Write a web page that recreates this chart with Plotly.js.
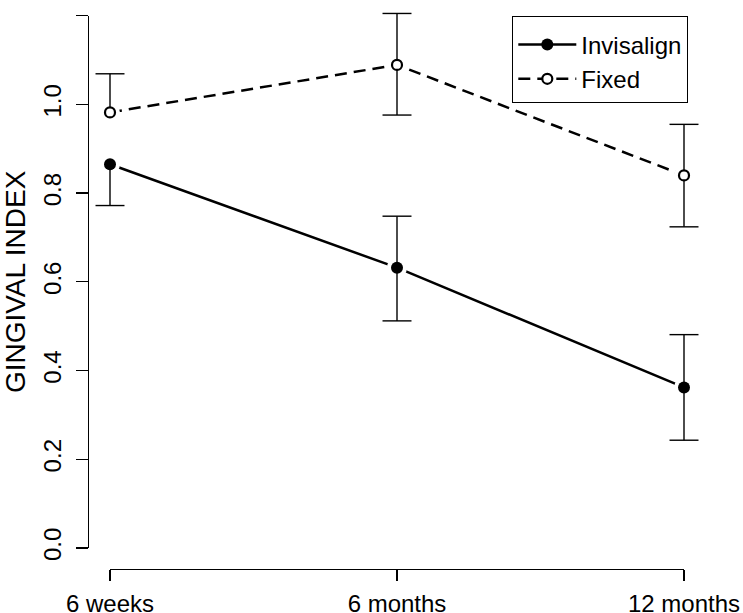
<!DOCTYPE html>
<html>
<head>
<meta charset="utf-8">
<script src="https://cdn.plot.ly/plotly-3.0.1.min.js"></script>
<style>html,body{margin:0;padding:0;background:#fff;}#chart{width:743px;height:613px;}</style>
</head>
<body>
<div id="chart"></div>
<script>
const timepoints = ["6 weeks", "6 months", "12 months"];
const tickPositions = [0, 1, 2];
const invisalignMean = [0.865, 0.632, 0.362];
const invisalignErrUp = [0, 0.116, 0.119];
const invisalignErrDown = [0.093, 0.120, 0.119];
const fixedMean = [0.982, 1.089, 0.840];
const fixedErrUp = [0.087, 0.116, 0.115];
const fixedErrDown = [0, 0.113, 0.116];
const yTickVals = [0, 0.2, 0.4, 0.6, 0.8, 1.0, 1.2];
const yTickText = ["0.0", "0.2", "0.4", "0.6", "0.8", "1.0", "1.2"];

const FONT = "Liberation Sans, Arial, sans-serif";

function capTrace(mean, up, down) {
  const xs = [], ys = [];
  for (let i = 0; i < mean.length; i++) {
    if (up[i] > 0) { xs.push(timepoints[i]); ys.push(mean[i] + up[i]); }
    if (down[i] > 0) { xs.push(timepoints[i]); ys.push(mean[i] - down[i]); }
  }
  return {x: xs, y: ys, mode: "markers", showlegend: false, hoverinfo: "skip", cliponaxis: false,
          marker: {symbol: "line-ew", size: 20.7, color: "#000", line: {color: "#000", width: 1.4}}};
}
function stemTrace(mean, up, down) {
  return {x: timepoints, y: mean, mode: "markers", showlegend: false, hoverinfo: "skip", cliponaxis: false,
          marker: {size: 1, opacity: 0},
          error_y: {type: "data", symmetric: false, array: up, arrayminus: down,
                    visible: true, color: "#000", thickness: 1.4, width: 0}};
}
function haloTrace(mean) {
  return {x: timepoints, y: mean, mode: "markers", showlegend: false, hoverinfo: "skip", cliponaxis: false,
          marker: {symbol: "circle", size: 20, color: "#fff"}};
}
const invMarker = {symbol: "circle", size: 12, color: "#000"};
const fixMarker = {symbol: "circle", size: 10, color: "#fff", line: {color: "#000", width: 2.2}};

const traces = [
  {x: timepoints, y: invisalignMean, name: "Invisalign", mode: "lines+markers", cliponaxis: false,
   line: {color: "#000", width: 2.5, dash: "solid"}, marker: invMarker},
  {x: timepoints, y: fixedMean, name: "Fixed", mode: "lines+markers", cliponaxis: false,
   line: {color: "#000", width: 2.5, dash: "12px,7px"}, marker: fixMarker},
  haloTrace(invisalignMean),
  haloTrace(fixedMean),
  stemTrace(invisalignMean, invisalignErrUp, invisalignErrDown),
  stemTrace(fixedMean, fixedErrUp, fixedErrDown),
  capTrace(invisalignMean, invisalignErrUp, invisalignErrDown),
  capTrace(fixedMean, fixedErrUp, fixedErrDown),
  {x: timepoints, y: invisalignMean, mode: "markers", showlegend: false, cliponaxis: false, marker: invMarker},
  {x: timepoints, y: fixedMean, mode: "markers", showlegend: false, cliponaxis: false, marker: fixMarker},
  // empty trace so the drawn axes form a subplot
  {x: [], y: [], xaxis: "x2", yaxis: "y2", mode: "markers", showlegend: false, hoverinfo: "skip"}
];

const layout = {
  width: 743, height: 613,
  margin: {l: 0, r: 0, t: 0, b: 0, pad: 0},
  paper_bgcolor: "#fff", plot_bgcolor: "rgba(0,0,0,0)",
  font: {family: FONT, size: 24, color: "#000"},
  showlegend: true,
  xaxis: {type: "category", categoryorder: "array", categoryarray: timepoints,
          range: [-0.38328, 2.20557], domain: [0, 1], visible: false, fixedrange: true},
  yaxis: {range: [-0.14653, 1.23535], domain: [0, 1], visible: false, fixedrange: true},
  xaxis2: {
    range: [0, 2], domain: [0.14805, 0.92059], anchor: "free", position: 0.07178,
    tickvals: tickPositions, ticktext: timepoints,
    showline: true, linecolor: "#000", linewidth: 1.3,
    ticks: "outside", ticklen: 11, tickwidth: 1.3, tickcolor: "#000",
    showgrid: false, zeroline: false,
    tickfont: {family: FONT, size: 24, color: "#000"}, ticklabelstandoff: 2
  },
  yaxis2: {
    range: [0, 1.2], domain: [0.10604, 0.97439], anchor: "free", position: 0.11844,
    tickvals: yTickVals, ticktext: yTickText, tickangle: -90,
    showline: true, linecolor: "#000", linewidth: 1.3,
    ticks: "outside", ticklen: 12, tickwidth: 1.3, tickcolor: "#000",
    showgrid: false, zeroline: false,
    tickfont: {family: FONT, size: 24, color: "#000"}, ticklabelstandoff: 5,
    title: {text: "GINGIVAL INDEX", font: {family: FONT, size: 28, color: "#000"}, standoff: 16}
  },
  legend: {
    x: 0.6891, y: 0.9739, xanchor: "left", yanchor: "top",
    bordercolor: "#000", borderwidth: 1.3, bgcolor: "#fff",
    font: {family: FONT, size: 24, color: "#000"},
    title: {text: " ", font: {family: FONT, size: 4, color: "#fff"}},
    itemwidth: 58, tracegroupgap: 0, entrywidth: 187, entrywidthmode: "pixels"
  }
};

Plotly.newPlot("chart", traces, layout, {staticPlot: true, displayModeBar: false});
</script>
</body>
</html>
